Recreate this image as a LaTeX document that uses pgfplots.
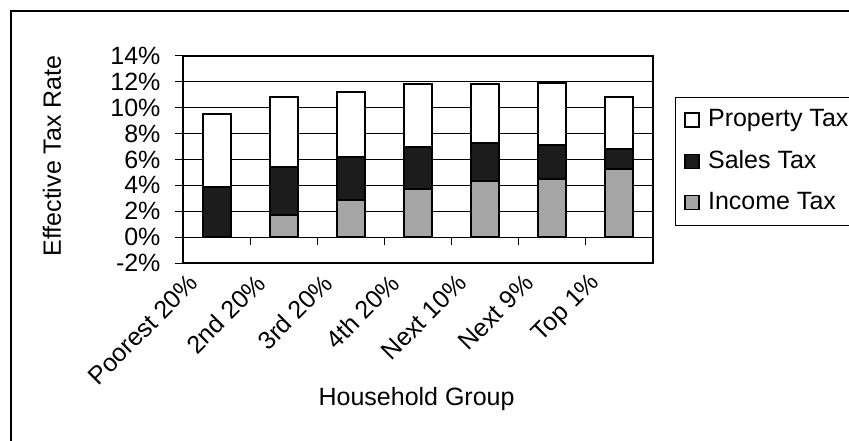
\documentclass[border=0pt]{standalone}
\usepackage{fontspec}
\setmainfont{Liberation Sans}
\usepackage{pgfplots}
\pgfplotsset{compat=1.18}
\definecolor{incgray}{RGB}{165,165,165}
\definecolor{salesblk}{RGB}{28,28,28}
\newcommand{\bigf}{\fontsize{25bp}{29bp}\selectfont}
\begin{document}
\bigf
\begin{tikzpicture}
\begin{axis}[
  at={(183bp,178bp)}, anchor=south west,
  width=470bp, height=207bp, scale only axis,
  ybar stacked, bar width=28bp,
  xmin=-0.5, xmax=6.5, ymin=-2, ymax=14,
  xtick={0,1,2,3,4,5,6},
  xticklabels={Poorest 20\%,2nd 20\%,3rd 20\%,4th 20\%,Next 10\%,Next 9\%,Top 1\%},
  x tick style={draw=none},
  xticklabel style={rotate=45, anchor=east, font=\bigf, xshift=-13.5bp, yshift=10.7bp},
  ytick={-2,0,2,4,6,8,10,12,14},
  ytick pos=left, tick align=outside, major tick length=8bp,
  y tick style={black, line width=1bp},
  yticklabel={\pgfmathprintnumber{\tick}\%},
  /pgf/number format/assume math mode=true,
  yticklabel style={font=\bigf, xshift=-6bp},
  ymajorgrids, grid style={black, line width=0.9bp},
  axis line style={black, line width=1.3bp},
  xlabel={Household Group}, ylabel={Effective Tax Rate},
  xlabel style={font=\bigf, at={(axis description cs:0.497,-0.657)}, anchor=center},
  ylabel style={font=\bigf, at={(axis description cs:-0.279,0.517)}, anchor=center},
  legend style={at={(axis description cs:1.0468,0.802)}, anchor=north west,
    draw=black, line width=0.9bp, font=\bigf, row sep=16bp,
    inner xsep=9bp, inner ysep=10bp, cells={anchor=west}},
  legend image code/.code={\draw[#1, line width=1.3bp] (0bp,-7bp) rectangle (14bp,7bp); \path (20bp,0bp);},
  reverse legend,
]
\addplot+[fill=incgray, draw=black, line width=2bp] coordinates {(0,0) (1,1.7) (2,2.9) (3,3.7) (4,4.3) (5,4.5) (6,5.3)};
\addplot+[fill=salesblk, draw=black, line width=2bp] coordinates {(0,3.9) (1,3.7) (2,3.3) (3,3.3) (4,3.0) (5,2.6) (6,1.5)};
\addplot+[fill=white, draw=black, line width=2bp] coordinates {(0,5.6) (1,5.4) (2,5.0) (3,4.8) (4,4.5) (5,4.8) (6,4.0)};
\legend{Income Tax, Sales Tax, Property Tax\hspace*{20bp}}
\draw[black, line width=1.2bp] (axis cs:-0.5,0) -- (axis cs:6.5,0);
\draw[black, line width=1.2bp]
  (axis cs:0.5,0) -- ++(0pt,-8bp)
  (axis cs:1.5,0) -- ++(0pt,-8bp)
  (axis cs:2.5,0) -- ++(0pt,-8bp)
  (axis cs:3.5,0) -- ++(0pt,-8bp)
  (axis cs:4.5,0) -- ++(0pt,-8bp)
  (axis cs:5.5,0) -- ++(0pt,-8bp);
\end{axis}
\draw[black, line width=1.5bp] (11bp,-20bp) -- (11bp,430bp) -- (880bp,430bp);
\pgfresetboundingbox
\useasboundingbox (0,0) rectangle (849bp,441bp);
\end{tikzpicture}
\end{document}
